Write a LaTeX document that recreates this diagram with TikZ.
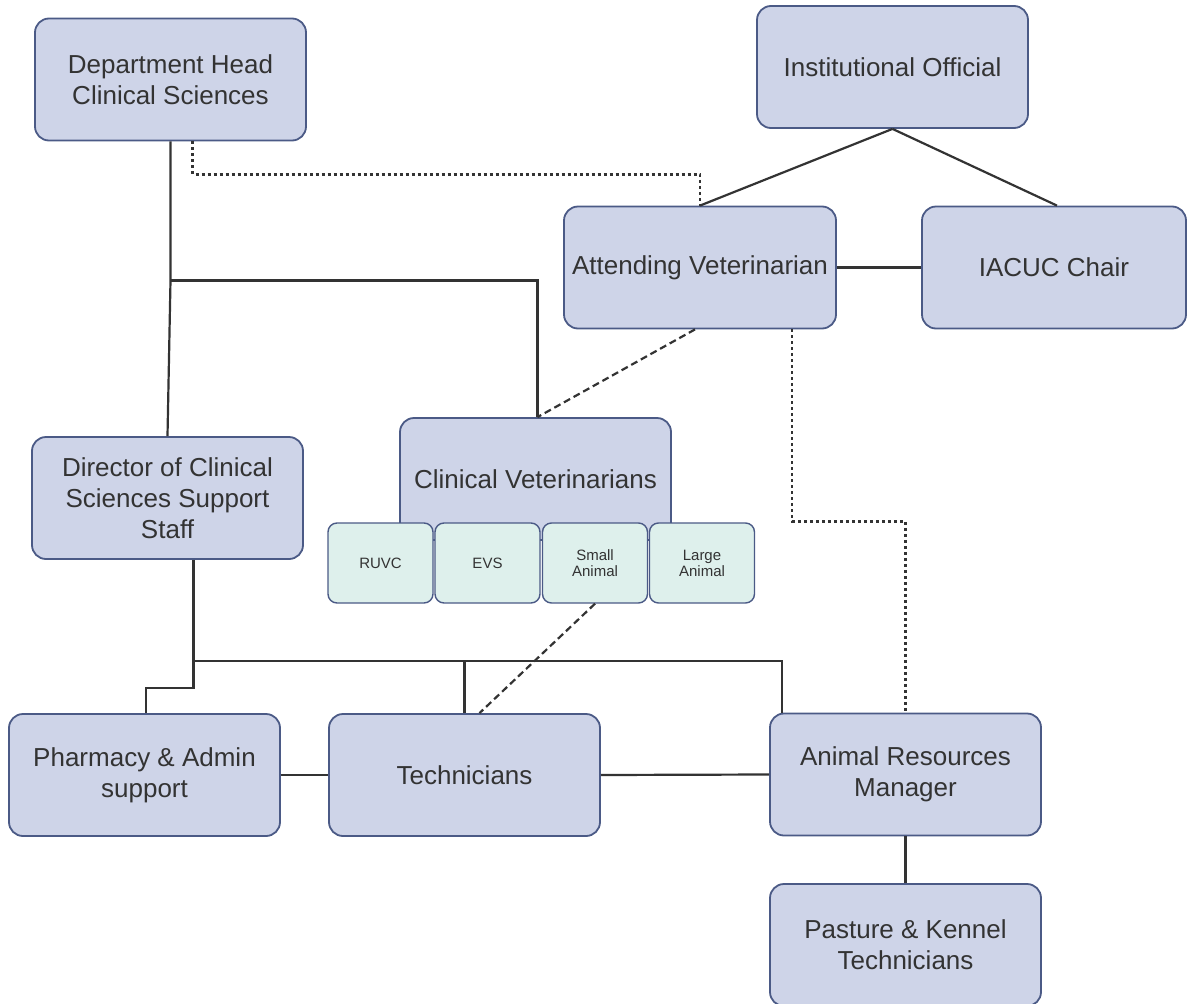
\documentclass[tikz,border=0pt]{standalone}
\usepackage{fontspec}
\setmainfont{Liberation Sans}
\definecolor{boxfill}{HTML}{CED4E8}
\definecolor{boxline}{HTML}{4B5A86}
\definecolor{subfill}{HTML}{DEF0EC}
\definecolor{linecol}{HTML}{333333}
\definecolor{textcol}{HTML}{333333}
\begin{document}
\begin{tikzpicture}[x=1pt,y=-1pt,
    box/.style={draw=boxline,fill=boxfill,line width=1.8pt,rounded corners=14pt,
      minimum width=271pt,minimum height=122pt,inner sep=0pt,align=center,
      text=textcol,font=\fontsize{26}{31}\selectfont},
    sub/.style={draw=boxline,fill=subfill,line width=1.4pt,rounded corners=9pt,
      minimum width=105pt,minimum height=80pt,inner sep=0pt,align=center,
      text=textcol,font=\fontsize{15}{16}\selectfont},
    link/.style={draw=linecol,line width=2.2pt},
    dots/.style={link,dash pattern=on 3pt off 3pt},
    dashes/.style={link,dash pattern=on 7pt off 4pt}]
  \useasboundingbox (0,0) rectangle (1187,1004);
  % boxes
  \node[box] (head) at (170.5,79.5) {Department Head\\Clinical Sciences};
  \node[box] (official) at (892.5,67) {Institutional Official};
  \node[box,minimum width=272pt] (attending) at (700,267.5) {Attending Veterinarian};
  \node[box,minimum width=264pt] (iacuc) at (1054,267.5) {IACUC Chair};
  \node[box] (director) at (167.5,498) {Director of Clinical\\Sciences Support\\Staff};
  \node[box] (clinvet) at (535.5,479) {Clinical Veterinarians};
  \node[sub] (ruvc) at (380.5,563) {RUVC};
  \node[sub] (evs) at (487.5,563) {EVS};
  \node[sub] (small) at (595,563) {Small\\Animal};
  \node[sub] (large) at (702,563) {Large\\Animal};
  \node[box] (pharmacy) at (144.5,775) {Pharmacy \& Admin\\support};
  \node[box] (tech) at (464.5,775) {Technicians};
  \node[box] (arm) at (905.5,774.5) {Animal Resources\\Manager};
  \node[box] (pasture) at (905.5,945) {Pasture \& Kennel\\Technicians};
  % solid links
  \draw[link] (head.south) -- ++(0,139) coordinate (split) -- (director.north);
  \draw[link] (split) -| ([xshift=2pt]clinvet.north);
  \draw[link] (official.south) -- (attending.north);
  \draw[link] (official.south) -- ([xshift=3pt]iacuc.north);
  \draw[link] (attending.east) -- (iacuc.west);
  \draw[link] ([xshift=26pt]director.south) -- ++(0,101) coordinate (bus)
    -| ([xshift=13pt]arm.north west);
  \draw[link] (bus) -- ++(0,27) -| ([xshift=1.5pt]pharmacy.north);
  \draw[link] (bus -| tech.north) -- (tech.north);
  \draw[link] (pharmacy.east) -- (tech.west);
  \draw[link] (tech.east) -- (arm.west);
  \draw[link] (arm.south) -- (pasture.north);
  % dotted and dashed links
  \draw[dots] ([xshift=22pt]head.south) -- ++(0,33) -| (attending.north);
  \draw[dots] ([xshift=92pt]attending.south) -- ++(0,192) -| (arm.north);
  \draw[dashes] ([xshift=-5pt]attending.south) -- ([xshift=2pt]clinvet.north);
  \draw[dashes] (small.south) -- ([xshift=15pt]tech.north);
\end{tikzpicture}
\end{document}
